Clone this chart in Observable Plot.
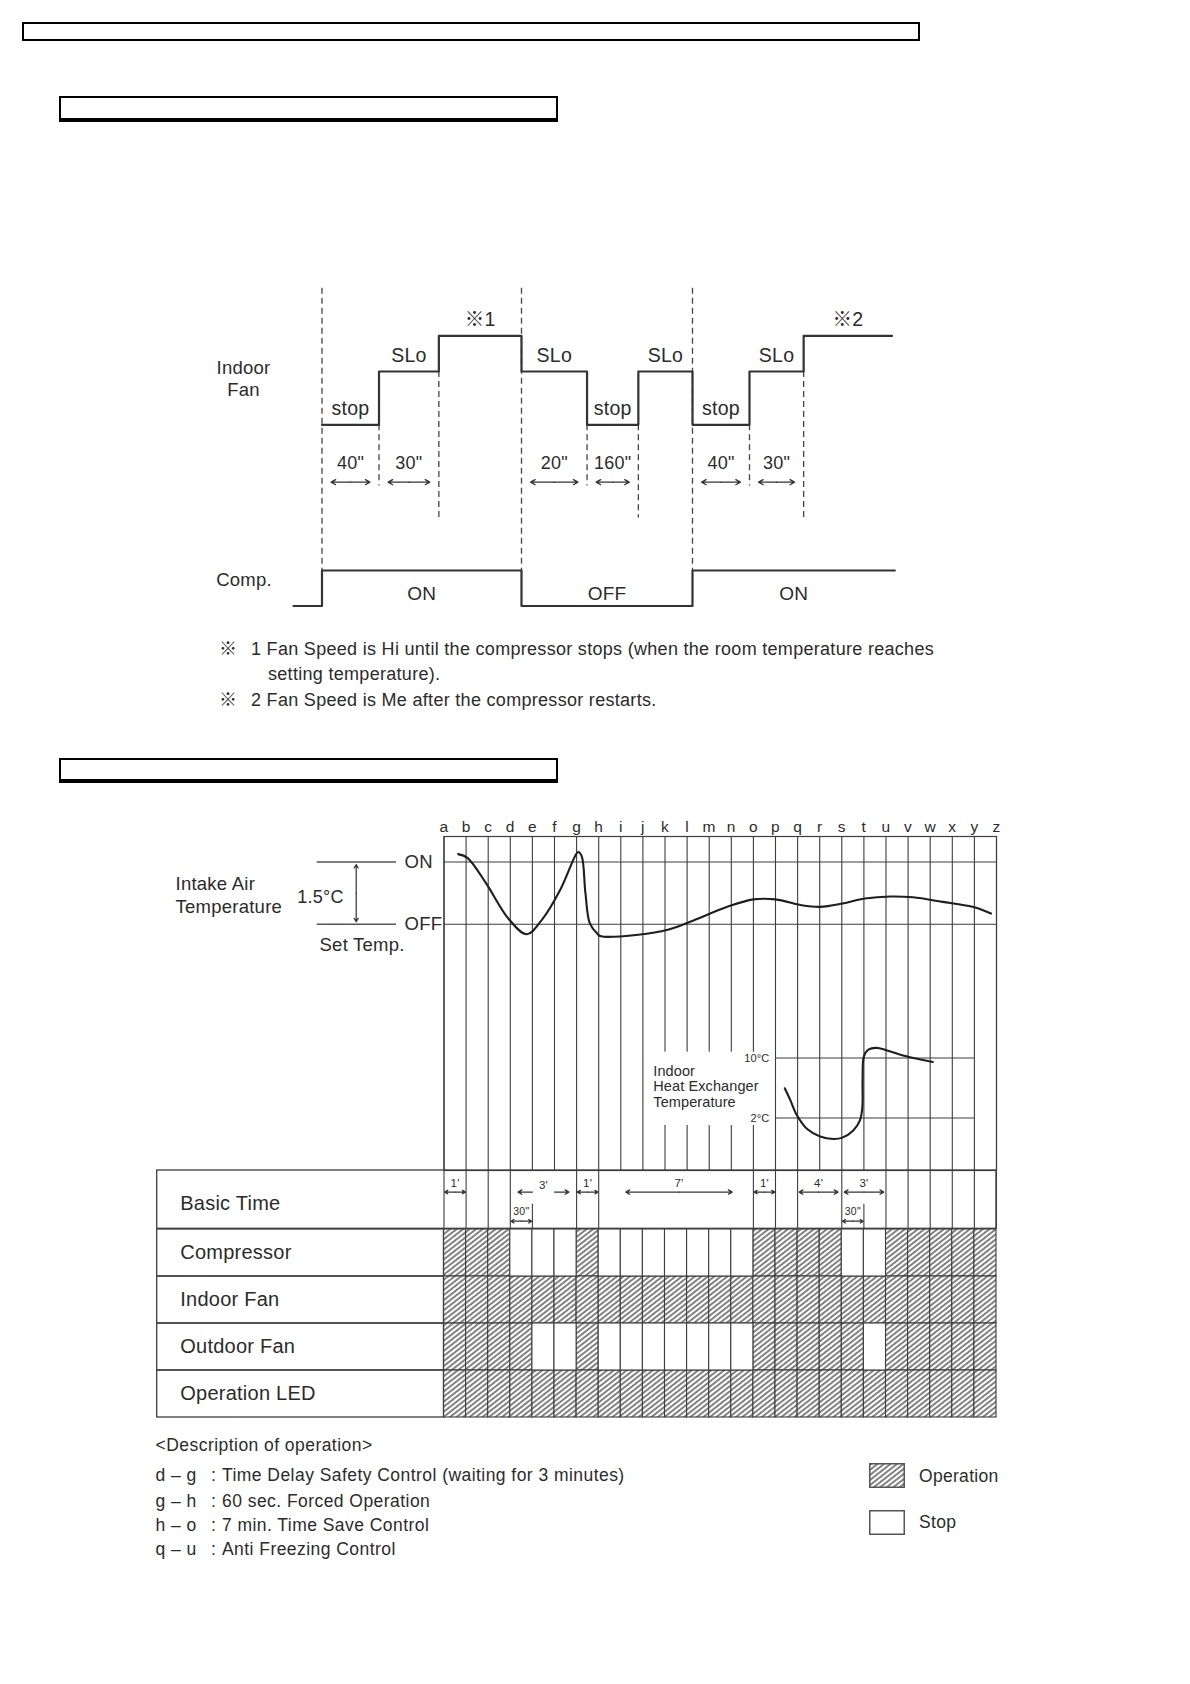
<!DOCTYPE html>
<html>
<head>
<meta charset="utf-8">
<title>Indoor fan / compressor operation</title>
<script src="https://cdn.jsdelivr.net/npm/d3@7"></script>
<script src="https://cdn.jsdelivr.net/npm/@observablehq/plot@0.6"></script>
<style>
  html, body { margin: 0; padding: 0; background: #fff; }
  #page { position: relative; width: 1190px; height: 1684px; overflow: hidden; background: #fff;
    font-family: "Liberation Sans", Arial, Helvetica, "Noto Sans CJK JP", sans-serif; color: #2b2b2b; }
  #page svg { overflow: visible; }
  .box { position: absolute; box-sizing: border-box; border: 2px solid #000; }
  .txt { position: absolute; white-space: nowrap; line-height: 20px; font-size: 17px; }
</style>
</head>
<body>
<div id="page">
  <svg width="0" height="0" style="position:absolute">
    <defs>
      <pattern id="hatch" patternUnits="userSpaceOnUse" width="4" height="4" patternTransform="rotate(-38)">
        <rect width="4" height="4" fill="#fff"></rect>
        <line x1="-1" y1="2" x2="5" y2="2" stroke="#454545" stroke-width="1.35"></line>
      </pattern>
    </defs>
  </svg>
</div>
<script>
// ======================= DATA =======================
// Upper diagram: indoor fan steps and compressor state on a schematic time axis
const fanTimes  = [0, 1, 2.05, 3.5, 4.65, 5.55, 6.5, 7.5, 8.45, 10];
const fanStates = ["stop", "SLo", "Hi", "SLo", "stop", "SLo", "stop", "SLo", "Me", "Me"];
const fanLabels = ["stop", "SLo", "※1", "SLo", "stop", "SLo", "stop", "SLo", "※2"];
const compTimes  = [-0.5, 0, 3.5, 6.5, 10.05];
const compStates = ["OFF", "ON", "OFF", "ON", "ON"];
const compLabels = ["ON", "OFF", "ON"];
const durFrom   = [0, 1, 3.5, 4.65, 6.5, 7.5];
const durTo     = [1, 2.05, 4.65, 5.55, 7.5, 8.45];
const durLabels = ['40"', '30"', '20"', '160"', '40"', '30"'];
const noteMarks = ["※", "", "※"];
const noteLines = [
  "1 Fan Speed is Hi until the compressor stops (when the room temperature reaches",
  "setting temperature).",
  "2 Fan Speed is Me after the compressor restarts."
];

// Lower diagram: columns a..z
const letters = ["a","b","c","d","e","f","g","h","i","j","k","l","m","n","o","p","q","r","s","t","u","v","w","x","y","z"];
// Intake air temperature, relative to set temp (OFF = 0, ON = 1.5 °C)
const intakeX = [0.64, 1.06, 1.90, 2.91, 3.75, 4.42, 5.26, 5.93, 6.07, 6.23, 6.40, 6.60, 6.94, 7.11, 8.79,
                 10.13, 11.14, 12.82, 14.0, 15.0, 16.18, 17.02, 18.03, 19.04, 20.21, 21.22, 22.56, 23.91, 24.75];
const intakeT = [1.69, 1.60, 0.99, 0.14, -0.24, 0.10, 0.83, 1.64, 1.74, 1.64, 0.75, 0.02, -0.23, -0.29, -0.25,
                 -0.13, 0.06, 0.42, 0.60, 0.60, 0.46, 0.42, 0.50, 0.62, 0.67, 0.65, 0.54, 0.42, 0.26];
const tempRefs = [1.5, 0];
const tempRefLabels = ["ON", "OFF"];
// Indoor heat exchanger temperature (°C)
const hxX = [15.42, 15.67, 15.97, 16.42, 17.02, 17.62, 18.0, 18.52, 18.82, 18.93, 18.94, 19.0, 19.2, 19.57, 20.02, 20.92, 22.12];
const hxT = [5.96, 4.38, 2.36, 0.56, -0.47, -0.79, -0.65, 0.34, 1.69, 3.48, 7.08, 10.22, 11.12, 11.35, 11.03, 10.22, 9.46];
const hxRefs = [10, 2];
// Basic time annotations
const spanFrom   = [0, 6, 8.2, 14, 16.04, 18.08];
const spanTo     = [1, 7, 13.07, 15, 17.86, 19.93];
const spanLabels = ["1'", "1'", "7'", "1'", "4'", "3'"];
const delayFrom = [3], delayTo = [6], delayLabels = ["3'"];
const subFrom = [3, 18], subTo = [4, 19], subLabels = ['30"', '30"'];
const basicTimeLines = [0, 1, 2, 3, 6, 7, 14, 15, 16, 18, 20, 21, 22, 23, 24, 25];
// Operation table (1 = operation, 0 = stop), one value per column a-b ... y-z
const rowNames = ["Compressor", "Indoor Fan", "Outdoor Fan", "Operation LED"];
const compressorOn   = [1,1,1,0,0,0,1,0,0,0,0,0,0,0,1,1,1,1,0,0,1,1,1,1,1];
const indoorFanOn    = [1,1,1,1,1,1,1,1,1,1,1,1,1,1,1,1,1,1,1,1,1,1,1,1,1];
const outdoorFanOn   = [1,1,1,1,0,0,1,0,0,0,0,0,0,0,1,1,1,1,1,0,1,1,1,1,1];
const operationLedOn = [1,1,1,1,1,1,1,1,1,1,1,1,1,1,1,1,1,1,1,1,1,1,1,1,1];
const descRanges = ["d – g", "g – h", "h – o", "q – u"];
const descTexts = ["Time Delay Safety Control (waiting for 3 minutes)", "60 sec. Forced Operation",
                   "7 min. Time Save Control", "Anti Freezing Control"];
const legendLabels = ["Operation", "Stop"];

// ======================= LAYOUT / STYLE =======================
const PAGE_W = 1190;
const FONT = '"Liberation Sans", Arial, Helvetica, "Noto Sans CJK JP", sans-serif';
const INK = "#2b2b2b";
const LINE = "#333";
const GRID = "#3d3d3d";
const page = document.getElementById("page");

function put(el, left, top) {
  el.style.position = "absolute";
  el.style.left = left + "px";
  el.style.top = top + "px";
  page.appendChild(el);
  return el;
}
function txt(s, left, cy, size, spacing) {
  const d = document.createElement("div");
  d.className = "txt";
  d.textContent = s;
  if (size) d.style.fontSize = size + "px";
  if (spacing) d.style.letterSpacing = spacing + "px";
  return put(d, left, cy - 10);
}
function box(left, top, w, h, bottom) {
  const d = document.createElement("div");
  d.className = "box";
  d.style.width = w + "px"; d.style.height = h + "px";
  if (bottom) d.style.borderBottomWidth = bottom + "px";
  return put(d, left, top);
}
// domain so that v1 sits at page px p1 and v2 at p2, for a frame spanning [pTop, pBottom]
function yDomain(v1, p1, v2, p2, pTop, pBottom) {
  const k = (v2 - v1) / (p2 - p1);
  return [v1 + (pBottom - p1) * k, v1 + (pTop - p1) * k];
}
const baseStyle = {fontFamily: FONT, color: INK, background: "transparent", overflow: "visible", letterSpacing: "0.25px"};

// header boxes
box(21.5, 22, 898.5, 19);
box(58.7, 96.3, 499, 25.5, 4);
box(58.7, 758, 499, 24.5, 4);

// ======================= UPPER DIAGRAM =======================
const A = {top: 270, h: 350, x0: 321.5, x10: 891.5};
const fanLevelOf = {stop: 0, SLo: 1.5, Hi: 2.5, Me: 2.5};
const compLevelOf = {ON: -4.1, OFF: -5.1};
const yA = yDomain(0, 424.3, 1.5, 371, A.top, A.top + A.h);
const DASH_TOP = 3.84, SHORT_END = -1.72, LONG_END = -2.62, ARROW_Y = -1.615, DUR_TEXT_Y = -1.09, COMP_TEXT_Y = -4.75;

const fanPts = fanTimes.map((t, i) => ({t, v: fanLevelOf[fanStates[i]]}));
const fanSegs = fanLabels.map((label, i) => ({mid: (fanTimes[i] + fanTimes[i + 1]) / 2, v: fanLevelOf[fanStates[i]], label}));
const compPts = compTimes.map((t, i) => ({t, v: compLevelOf[compStates[i]]}));
const compSegs = compLabels.map((label, i) => ({mid: (compTimes[i + 1] + compTimes[i + 2]) / 2, label}));
const compEvents = compTimes.filter((t, i) => i > 0 && compStates[i] !== compStates[i - 1]);
const durs = durFrom.map((f, i) => ({from: f, to: durTo[i], mid: (f + durTo[i]) / 2, label: durLabels[i]}));
const edges = fanTimes.slice(1, -1).map((t, i) => ({
  t, low: Math.min(fanLevelOf[fanStates[i]], fanLevelOf[fanStates[i + 1]]),
  end: (durFrom.includes(t) && durTo.includes(t)) ? SHORT_END : LONG_END
})).filter(d => !compEvents.includes(d.t));
const ins = 0.16;

const plotA = Plot.plot({
  width: PAGE_W, height: A.h,
  marginLeft: A.x0, marginRight: PAGE_W - A.x10, marginTop: 0, marginBottom: 0,
  x: {domain: [0, 10], axis: null},
  y: {domain: yA, axis: null},
  style: baseStyle,
  marks: [
    Plot.ruleX(compEvents, {y1: DASH_TOP, y2: compLevelOf.ON, stroke: "#444", strokeWidth: 1.3, strokeDasharray: "6,4"}),
    Plot.ruleX(edges, {x: "t", y1: "low", y2: "end", stroke: "#444", strokeWidth: 1.3, strokeDasharray: "6,4"}),
    Plot.line(fanPts, {x: "t", y: "v", curve: "step-after", stroke: LINE, strokeWidth: 2.2}),
    Plot.line(compPts, {x: "t", y: "v", curve: "step-after", stroke: LINE, strokeWidth: 2.2}),
    Plot.text(fanSegs, {x: "mid", y: "v", text: "label", dy: -16, fontSize: 19.5}),
    Plot.text(durs, {x: "mid", y: DUR_TEXT_Y, text: "label", fontSize: 18}),
    Plot.arrow(durs, {x1: "mid", x2: d => d.from + ins, y1: ARROW_Y, y2: ARROW_Y, stroke: LINE, strokeWidth: 1.3, headLength: 6}),
    Plot.arrow(durs, {x1: "mid", x2: d => d.to - ins, y1: ARROW_Y, y2: ARROW_Y, stroke: LINE, strokeWidth: 1.3, headLength: 6}),
    Plot.text(compSegs, {x: "mid", y: COMP_TEXT_Y, text: "label", fontSize: 19}),
    Plot.text(["Indoor\nFan"], {text: d => d, frameAnchor: "left", dx: -78.5, y: 1.32, textAnchor: "middle", lineHeight: 1.2, fontSize: 18.5}),
    Plot.text(["Comp."], {text: d => d, frameAnchor: "left", dx: -78, y: -4.38, textAnchor: "middle", fontSize: 18.5})
  ]
});
put(plotA, 0, A.top);

// footnotes
noteLines.forEach((s, i) => {
  const cy = [649.3, 674, 700][i];
  if (noteMarks[i]) txt(noteMarks[i], 219, cy, 18);
  txt(s, i === 1 ? 268 : 251, cy, 18, 0.3);
});

// ======================= LOWER DIAGRAM =======================
const B = {x0: 443.5, x25: 996};
const colPx = (B.x25 - B.x0) / 25;
const xu = px => (px - B.x0) / colPx;          // page px -> column units (annotation placement)
const tableLeft = xu(156.7);
const B1 = {top: 800, h: 370, mt: 36};
const yB1 = yDomain(1.5, 861.5, 0, 923.8, B1.top + B1.mt, B1.top + B1.h);
const yHX = yDomain(10, 1057.5, 2, 1117.5, B1.top + B1.mt, B1.top + B1.h);
const intake = intakeX.map((x, i) => ({x, t: intakeT[i]}));
const hx = hxX.map((x, i) => ({x, t: hxT[i]}));
const refs = tempRefs.map((v, i) => ({v, label: tempRefLabels[i]}));
const refMid = (tempRefs[0] + tempRefs[1]) / 2;
const lowerCommon = {
  width: PAGE_W, marginLeft: B.x0, marginRight: PAGE_W - B.x25,
  x: {domain: [0, 25], axis: null}
};

const plotB1 = Plot.plot({
  ...lowerCommon, height: B1.h, marginTop: B1.mt, marginBottom: 0,
  y: {domain: yB1, axis: null},
  style: baseStyle,
  marks: [
    Plot.ruleX(d3.range(letters.length), {stroke: GRID, strokeWidth: 1.1}),
    Plot.frame({stroke: GRID, strokeWidth: 1.2}),
    Plot.ruleY(tempRefs, {x1: 0, x2: 25, stroke: GRID, strokeWidth: 1.1}),
    Plot.line(intake, {x: "x", y: "t", curve: "catmull-rom", stroke: "#1e1e1e", strokeWidth: 2.1}),
    Plot.text(letters, {x: (d, i) => i, text: d => d, frameAnchor: "top", lineAnchor: "bottom", dy: -5, fontSize: 15.5}),
    // ON / OFF legend at left
    Plot.ruleY(tempRefs, {x1: xu(316.7), x2: xu(396), stroke: "#555", strokeWidth: 1.4}),
    Plot.text(refs, {x: xu(404), y: "v", text: "label", textAnchor: "start", fontSize: 18.5}),
    Plot.arrow([refMid], {x1: xu(355.7), x2: xu(355.7), y1: refMid, y2: tempRefs[0] - 0.06, stroke: LINE, strokeWidth: 1.2, headLength: 5}),
    Plot.arrow([refMid], {x1: xu(355.7), x2: xu(355.7), y1: refMid, y2: tempRefs[1] + 0.06, stroke: LINE, strokeWidth: 1.2, headLength: 5}),
    Plot.text([`${tempRefs[0] - tempRefs[1]}°C`], {text: d => d, x: xu(296.7), y: 0.65, textAnchor: "start", fontSize: 18}),
    Plot.text(["Set Temp."], {text: d => d, x: xu(319), y: -0.49, textAnchor: "start", fontSize: 18.5}),
    Plot.text(["Intake Air\nTemperature"], {text: d => d, x: xu(175), y: 0.72, textAnchor: "start", lineHeight: 1.2, fontSize: 18.5})
  ]
});
put(plotB1, 0, B1.top);

const plotHX = Plot.plot({
  ...lowerCommon, height: B1.h, marginTop: B1.mt, marginBottom: 0,
  y: {domain: yHX, axis: null},
  style: {...baseStyle, letterSpacing: "0.1px"},
  marks: [
    Plot.rect([0], {x1: 9.3, x2: 14.8, y1: 1.0, y2: 10.77, fill: "#fff"}),
    Plot.ruleY(hxRefs, {x1: 15, x2: 24, stroke: GRID, strokeWidth: 1.1}),
    Plot.text(hxRefs, {x: 14.72, y: d => d, text: d => `${d}°C`, textAnchor: "end", fontSize: 11}),
    Plot.text(["Indoor\nHeat Exchanger\nTemperature"], {text: d => d, x: 9.47, y: 6.2, textAnchor: "start", lineHeight: 1.05, fontSize: 14.5}),
    Plot.line(hx, {x: "x", y: "t", curve: "catmull-rom", stroke: "#1e1e1e", strokeWidth: 2.1})
  ]
});
put(plotHX, 0, B1.top);

// Basic time row
const B3 = {top: 1170, h: 58.3};
const spans = spanFrom.map((f, i) => ({from: f, to: spanTo[i], mid: (f + spanTo[i]) / 2, label: spanLabels[i]}));
const delays = delayFrom.map((f, i) => ({from: f, to: delayTo[i], mid: (f + delayTo[i]) / 2, label: delayLabels[i]}));
const subs = subFrom.map((f, i) => ({from: f, to: subTo[i], mid: (f + subTo[i]) / 2, label: subLabels[i]}));
const aStyle = {stroke: LINE, strokeWidth: 1.3, headLength: 5};
const plotB3 = Plot.plot({
  ...lowerCommon, height: B3.h, marginTop: 0, marginBottom: 0,
  y: {domain: [0, 1], reverse: true, axis: null},
  style: baseStyle,
  marks: [
    Plot.rect([0], {x1: tableLeft, x2: 25, y1: 0, y2: 1, fill: "none", stroke: GRID, strokeWidth: 1.3}),
    Plot.ruleX(basicTimeLines, {y1: 0, y2: 1, stroke: GRID, strokeWidth: 1.1}),
    Plot.ruleX(subs, {x: "to", y1: 0.58, y2: 1, stroke: GRID, strokeWidth: 1.1}),
    Plot.text(["Basic Time"], {text: d => d, x: tableLeft, dx: 23, y: 0.57, textAnchor: "start", fontSize: 20}),
    Plot.text(spans, {x: "mid", y: 0.22, text: "label", fontSize: 11.5}),
    Plot.arrow(spans, {x1: "mid", x2: d => d.from + 0.03, y1: 0.37, y2: 0.37, ...aStyle}),
    Plot.arrow(spans, {x1: "mid", x2: d => d.to - 0.03, y1: 0.37, y2: 0.37, ...aStyle}),
    Plot.text(delays, {x: "mid", y: 0.26, text: "label", fontSize: 11.5}),
    Plot.arrow(delays, {x1: d => d.mid - 0.5, x2: d => d.mid - 1.15, y1: 0.37, y2: 0.37, ...aStyle}),
    Plot.arrow(delays, {x1: d => d.mid + 0.5, x2: d => d.mid + 1.15, y1: 0.37, y2: 0.37, ...aStyle}),
    Plot.text(subs, {x: "mid", y: 0.70, text: "label", fontSize: 10.5}),
    Plot.arrow(subs, {x1: "mid", x2: d => d.from + 0.03, y1: 0.87, y2: 0.87, ...aStyle, headLength: 4}),
    Plot.arrow(subs, {x1: "mid", x2: d => d.to - 0.03, y1: 0.87, y2: 0.87, ...aStyle, headLength: 4})
  ]
});
put(plotB3, 0, B3.top);

// Operation table
const B2 = {top: 1228.3, h: 190};
const states = [compressorOn, indoorFanOn, outdoorFanOn, operationLedOn];
const cells = rowNames.flatMap((row, k) => states[k].map((on, i) => ({row, i, on})));
const plotB2 = Plot.plot({
  ...lowerCommon, height: B2.h, marginTop: 0, marginBottom: 0,
  y: {domain: rowNames, padding: 0, axis: null},
  style: baseStyle,
  marks: [
    Plot.barX(cells.filter(d => d.on), {x1: "i", x2: d => d.i + 1, y: "row", fill: "url(#hatch)", stroke: GRID, strokeWidth: 1.1}),
    Plot.barX(cells.filter(d => !d.on), {x1: "i", x2: d => d.i + 1, y: "row", fill: "#fff", stroke: GRID, strokeWidth: 1.1}),
    Plot.barX(rowNames, {x1: tableLeft, x2: 0, y: d => d, fill: "none", stroke: GRID, strokeWidth: 1.3}),
    Plot.text(rowNames, {text: d => d, x: tableLeft, dx: 23, y: d => d, textAnchor: "start", fontSize: 20})
  ]
});
put(plotB2, 0, B2.top);

// Description of operation
txt("<Description of operation>", 155.6, 1445, 17.5, 0.45);
descRanges.forEach((r, i) => {
  const cy = [1475, 1500.7, 1525, 1549.3][i];
  txt(r, 155.6, cy, 17.5, 0.45);
  txt(":", 211, cy, 17.5);
  txt(descTexts[i], 222, cy, 17.5, 0.45);
});

// Legend
legendLabels.forEach((label, i) => {
  const top = [1463, 1509.5][i];
  const sw = d3.create("svg").attr("width", 36).attr("height", 25);
  sw.append("rect").attr("x", 0.75).attr("y", 0.75).attr("width", 34.5).attr("height", 23.5)
    .attr("fill", i === 0 ? "url(#hatch)" : "#fff").attr("stroke", "#555").attr("stroke-width", 1.5);
  put(sw.node(), 868.5, top);
  txt(label, 919, top + 12.5, 17.5, 0.3);
});
</script>
</body>
</html>
